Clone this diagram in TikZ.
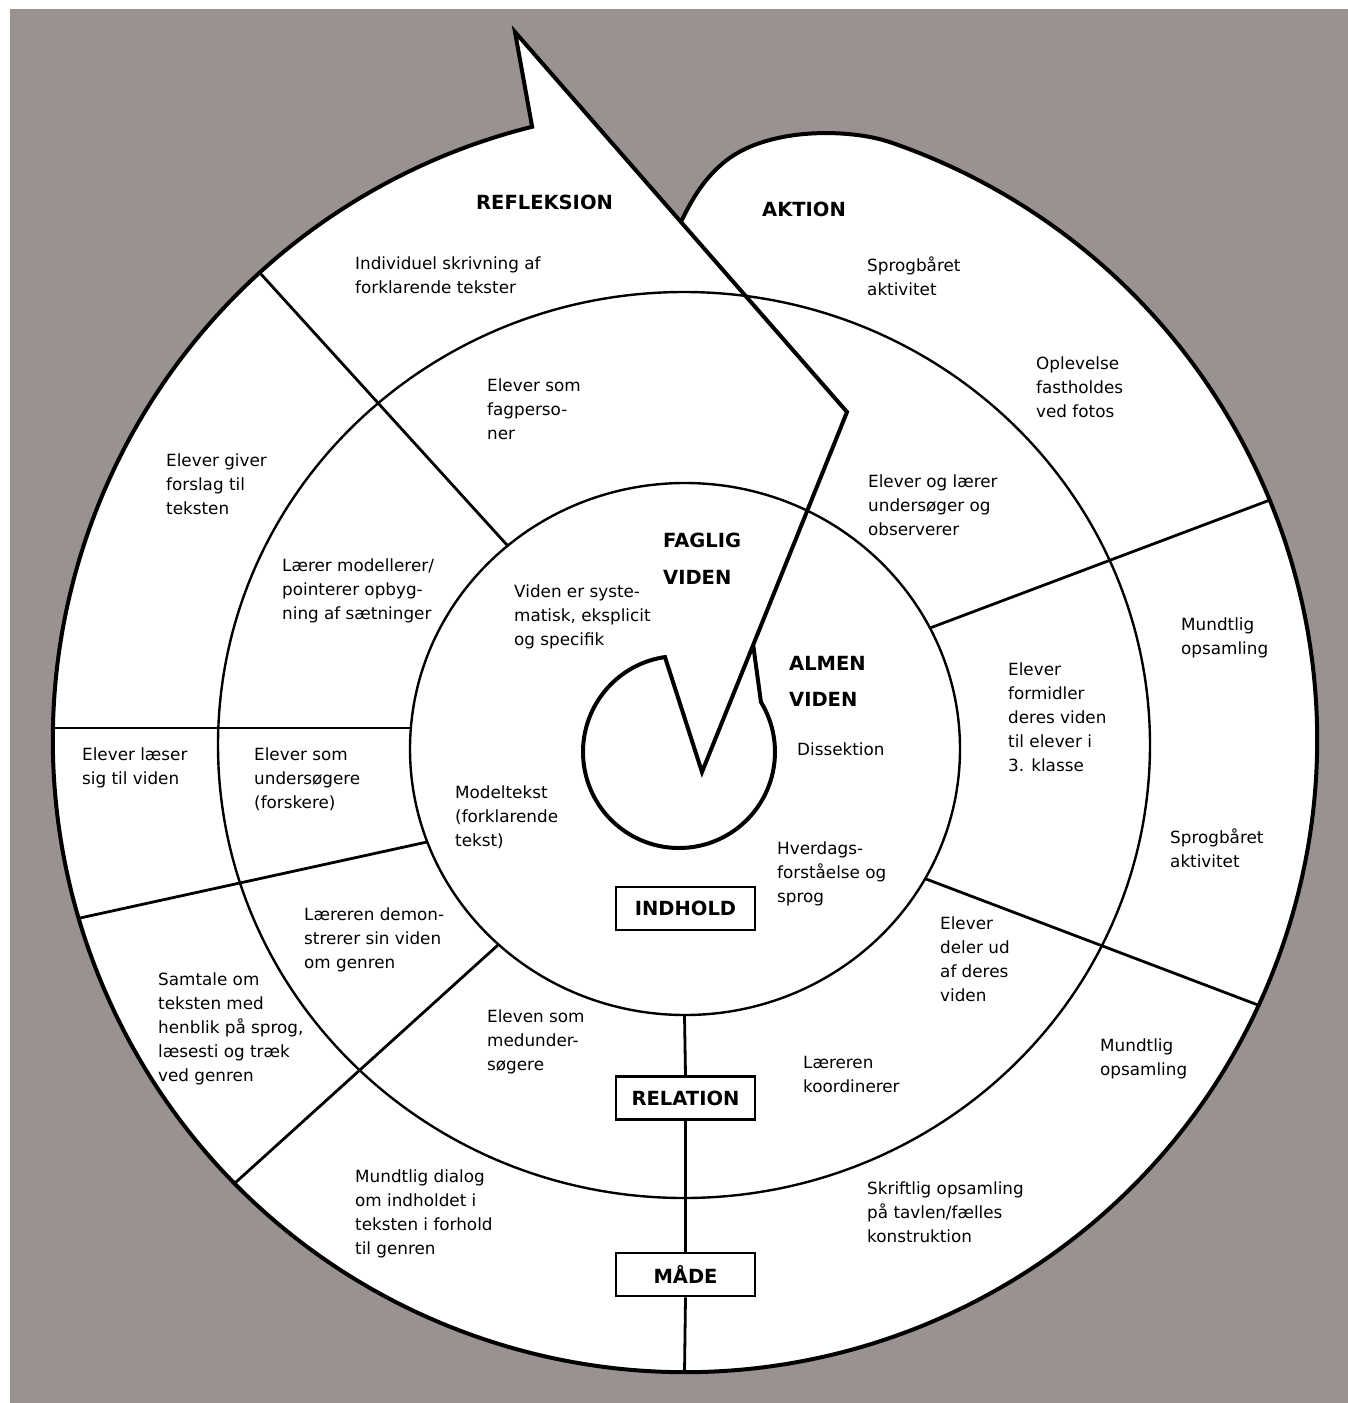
\documentclass[tikz,border=0pt]{standalone}
\usepackage{fontspec}
\setmainfont{DejaVu Sans}
\usetikzlibrary{calc}
\definecolor{bggray}{RGB}{154,146,144}
\begin{document}
\begin{tikzpicture}[x=1pt,y=1pt,
  lbl/.style={font=\fontsize{16.8}{24}\selectfont, align=left, anchor=north west, inner sep=0pt, text=black},
  head/.style={font=\fontsize{19.5}{36.5}\selectfont\bfseries, align=left, anchor=north west, inner sep=0pt, text=black},
  boxlbl/.style={draw, line width=2.5pt, font=\fontsize{19.5}{24}\selectfont\bfseries, minimum width=139pt, minimum height=43pt, inner sep=0pt, fill=white},
  ring/.style={line width=2.4pt},
  divline/.style={line width=2.8pt},
  spiral/.style={line width=4pt, line join=miter}]
\useasboundingbox (0,0) rectangle (1348,-1403);
% page and background
\fill[white] (0,0) rectangle (1348,-1403);
\fill[bggray] (10,-9) rectangle (1348,-1403);
% key coordinates
\coordinate (O) at (685,-740);
\coordinate (S) at (679,-752);
\coordinate (tip) at (515,-32);
\coordinate (c1) at (847,-412);
\coordinate (vbot) at (702,-772);
\coordinate (notch) at ($(O)+(104:632)$);
\coordinate (arcend) at ($(O)+(71:632)$);
\coordinate (B) at ($(tip)!0.5!(c1)$);
\coordinate (vleft) at ($(S)+(98.4:96)$);
\coordinate (vtop) at ($(c1)!0.647!(vbot)$);
% white body of the spiral
\fill[white] (tip) -- (notch) arc[start angle=104, end angle=431, radius=632]
  .. controls (851,-128.5) and (765,-126) .. (722,-164)
  .. controls (702,-181) and (690,-203) .. (B) -- cycle;
% rings
\draw[ring] (685,-749) ellipse[x radius=275, y radius=266];
\draw[ring] (684,-745) ellipse[x radius=466, y radius=453];
% division lines
\coordinate (d1a) at (260,-273); \coordinate (d1b) at (507,-545);
\coordinate (d2a) at (53,-728);  \coordinate (d2b) at (411,-728);
\coordinate (d3a) at (80,-918);  \coordinate (d3b) at (427,-842);
\coordinate (d4a) at (235,-1183); \coordinate (d4b) at (498,-945);
\coordinate (d5a) at (925,-878.6); \coordinate (d5b) at (1258,-1005);
\coordinate (d6a) at (930,-628); \coordinate (d6b) at (1270,-500);
\draw[divline] (d1a) -- (d1b);
\draw[divline] (d2a) -- (d2b);
\draw[divline] (d3a) -- (d3b);
\draw[divline] (d4a) -- (d4b);
\draw[divline] (d5a) -- (d5b);
\draw[divline] (d6a) -- (d6b);
% spiral outline
\draw[spiral] (B) .. controls (690,-203) and (702,-181) .. (722,-164)
  .. controls (765,-126) and (851,-128.5) .. (arcend)
  arc[start angle=71, end angle=-256, radius=632]
  -- (tip) -- (c1) -- (vbot) -- (vleft)
  arc[start angle=98.4, end angle=391.4, radius=96] -- (vtop);
% boxes and vertical line
\coordinate (inbot) at (684.5,-1015);
\coordinate (outbot) at (684.5,-1373);
\node[boxlbl] (indhold) at (685.5,-908.5) {INDHOLD};
\node[boxlbl] (relation) at (685.5,-1098) {RELATION};
\node[boxlbl] (made) at (685.5,-1274.5) {MÅDE};
\draw[divline] (inbot) -- (relation.north);
\draw[divline] (relation.south) -- (made.north);
\draw[divline] (made.south) -- (outbot);
% headings
\node[head] (refl) at (476,-195) {REFLEKSION};
\node[head] (akt) at (762,-202) {AKTION};
\node[head] (fag) at (663,-533) {FAGLIG\\VIDEN};
\node[head] (alm) at (789,-656) {ALMEN\\VIDEN};
% labels
\node[lbl] (t01) at (355,-257) {Individuel skrivning af\\forklarende tekster};
\node[lbl] (t02) at (867,-257) {Sprogbåret\\aktivitet};
\node[lbl] (t03) at (487,-379) {Elever som\\fagperso-\\ner};
\node[lbl] (t04) at (1036,-357) {Oplevelse\\fastholdes\\ved fotos};
\node[lbl] (t05) at (166,-454) {Elever giver\\forslag til\\teksten};
\node[lbl] (t06) at (868,-475) {Elever og lærer\\undersøger og\\observerer};
\node[lbl] (t07) at (282,-559) {Lærer modellerer/\\pointerer opbyg-\\ning af sætninger};
\node[lbl] (t08) at (514,-585) {Viden er syste-\\matisk, eksplicit\\og specifik};
\node[lbl] (t09) at (1181,-618) {Mundtlig\\opsamling};
\node[lbl] (t10) at (1008,-663) {Elever\\formidler\\deres viden\\til elever i\\3. klasse};
\node[lbl] (t11) at (797,-743) {Dissektion};
\node[lbl] (t12) at (82,-748) {Elever læser\\sig til viden};
\node[lbl] (t13) at (254,-748) {Elever som\\undersøgere\\(forskere)};
\node[lbl] (t14) at (455,-786) {Modeltekst\\(forklarende\\tekst)};
\node[lbl] (t15) at (1170,-829) {Sprogbåret\\aktivitet};
\node[lbl] (t16) at (777,-842) {Hverdags-\\forståelse og\\sprog};
\node[lbl] (t17) at (304,-908) {Læreren demon-\\strerer sin viden\\om genren};
\node[lbl] (t18) at (940,-917) {Elever\\deler ud\\af deres\\viden};
\node[lbl] (t19) at (158,-973) {Samtale om\\teksten med\\henblik på sprog,\\læsesti og træk\\ved genren};
\node[lbl] (t20) at (487,-1010) {Eleven som\\medunder-\\søgere};
\node[lbl] (t21) at (1100,-1039) {Mundtlig\\opsamling};
\node[lbl] (t22) at (803,-1056) {Læreren\\koordinerer};
\node[lbl] (t23) at (355,-1170) {Mundtlig dialog\\om indholdet i\\teksten i forhold\\til genren};
\node[lbl] (t24) at (867,-1182) {Skriftlig opsamling\\på tavlen/fælles\\konstruktion};
\end{tikzpicture}
\end{document}
